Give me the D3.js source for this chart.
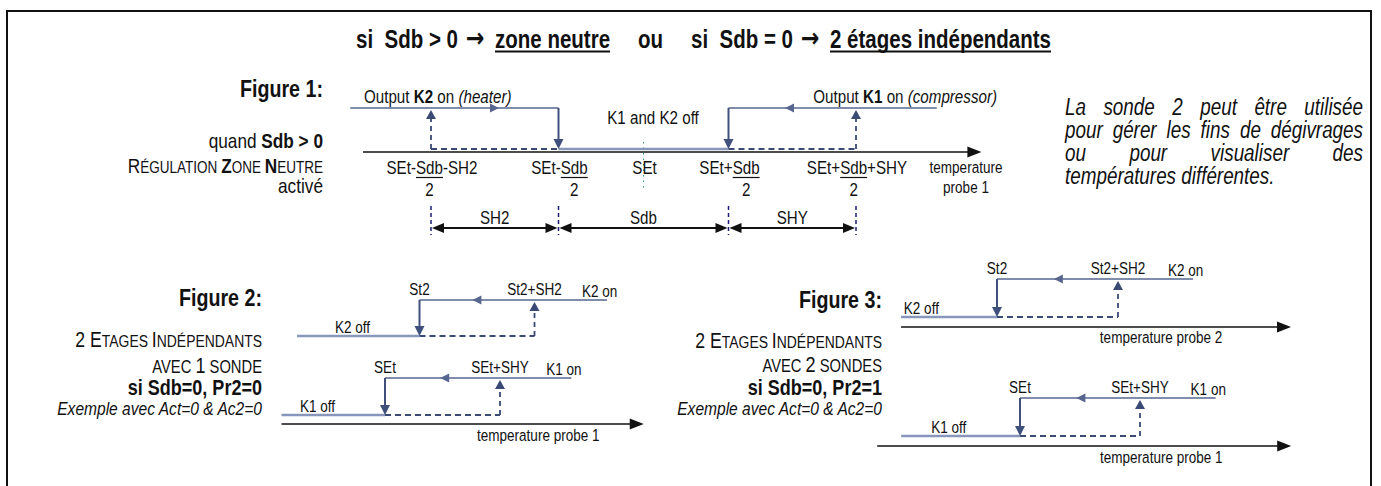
<!DOCTYPE html>
<html>
<head>
<meta charset="utf-8">
<script src="https://cdn.jsdelivr.net/npm/d3@7"></script>
<style>
  body { margin: 0; background: #fff; }
  svg { display: block; }
  text { font-family: "Liberation Sans", Arial, sans-serif; fill: #111; white-space: pre; }
</style>
</head>
<body>
<script>
// ---- data ----
// figure 1 : SEt = 0, Sdb = 4, SH2 = SHY = 3 (temperature units)
var fig1Thresholds = [-5, -2, 0, 2, 5];
var fig1Labels = [["SEt-", "Sdb", "-SH2"], ["SEt-", "Sdb", ""], ["SEt", "", ""], ["SEt+", "Sdb", ""], ["SEt+", "Sdb", "+SHY"]];
var fig1Bands = [[-5, -2], [-2, 2], [2, 5]];
var fig1BandLabels = ["SH2", "Sdb", "SHY"];

// figure 2 : one probe, SEt = 0, St2 = 3, SH2 = SHY = 10
var fig2K2 = { low: 3, high: 13, offStart: -7.65, onEnd: 19.3, arrow: 7.6, offLabel: -4.35 };
var fig2K1 = { low: 0, high: 10, offStart: -9, onEnd: 16.2, arrow: 4.8, offLabel: -7.4 };
var fig2Axis = [-9, 22.5];

// figure 3 : two probes
var fig3K2 = { low: 3, high: 13, offStart: -4.93, onEnd: 19.2, arrow: 7.7, offLabel: -4.7 };
var fig3K1 = { low: 0, high: 10, offStart: -9.9, onEnd: 16.3, arrow: 4.7, offLabel: -7.4 };
var fig3Axis2 = [-4.93, 27.3];
var fig3Axis1 = [-11.9, 22.6];

var noteLines = ["La sonde 2 peut être utilisée", "pour gérer les fins de dégivrages", "ou pour visualiser des", "températures différentes."];

var W = 1381, H = 486;
var NARROW = 0.82;   // Arial -> Arial Narrow
var cOn = "#56668f", cDrop = "#3f507c", cOff = "#8796ba", cDash = "#3a4a74";

var svg = d3.select("body").append("svg").attr("width", W).attr("height", H);

// frame
svg.append("rect").attr("x", 7).attr("y", 11).attr("width", 1364).attr("height", 480)
  .attr("fill", "none").attr("stroke", "#111").attr("stroke-width", 2);

// ---- helpers ----
function line(g, x1, y1, x2, y2, color, w, dash) {
  return g.append("line").attr("x1", x1).attr("y1", y1).attr("x2", x2).attr("y2", y2)
    .attr("stroke", color).attr("stroke-width", w).attr("stroke-dasharray", dash || null);
}
// triangle with tip at (x,y), pointing dir
function tri(g, x, y, dir, len, half, color) {
  var p;
  if (dir == "down") p = [[x, y], [x - half, y - len], [x + half, y - len]];
  if (dir == "up") p = [[x, y], [x - half, y + len], [x + half, y + len]];
  if (dir == "left") p = [[x, y], [x + len, y - half], [x + len, y + half]];
  if (dir == "right") p = [[x, y], [x - len, y - half], [x - len, y + half]];
  g.append("path").attr("d", "M" + p.join("L") + "Z").attr("fill", color);
}
function place(t, x, y) {
  return t.attr("transform", "translate(" + x + "," + y + ") scale(" + NARROW + ",1)");
}
function width(t) { return t.node().getComputedTextLength() * NARROW; }
// text built from parts [string, size, weight, style]
function rich(g, x, y, parts, anchor) {
  var t = g.append("text").attr("text-anchor", anchor || "start");
  place(t, x, y);
  parts.forEach(function (p) {
    t.append("tspan").text(p[0]).attr("font-size", p[1])
      .attr("font-weight", p[2] || "normal").attr("font-style", p[3] || "normal");
  });
  return t;
}
function txt(g, x, y, s, size, anchor, weight, style) {
  return rich(g, x, y, [[s, size, weight, style]], anchor);
}
function axis(g, x0, x1, y) {
  line(g, x0, y, x1 - 10, y, "#111", 1.6);
  tri(g, x1, y, "right", 14, 5.5, "#111");
}
function upDash(g, x, yOff, yOn) {
  line(g, x, yOff, x, yOn + 9, cDash, 1.8, "5,4");
  tri(g, x, yOn + 2, "up", 9, 5, cDash);
}
function drop(g, x, yOn, yOff) {
  line(g, x, yOn, x, yOff - 8, cDrop, 2);
  tri(g, x, yOff, "down", 10, 5, cDrop);
}

// two-level relay line, switching off at low and on at high
function relay(g, x, r, onY, offY, names) {
  line(g, x(r.low), onY, x(r.onEnd), onY, cOn, 1.6);
  tri(g, x(r.arrow), onY, "left", 9, 4.5, cOn);
  line(g, x(r.offStart), offY, x(r.low), offY, cOff, 2.6);
  line(g, x(r.low), offY, x(r.high), offY, cDash, 1.8, "6,4");
  drop(g, x(r.low), onY, offY);
  upDash(g, x(r.high), offY, onY);
  var fs = 16.5;
  txt(g, x(r.low), onY - 5, names[0], fs, "middle");
  txt(g, x(r.high), onY - 5, names[1], fs, "middle");
  txt(g, x(r.onEnd) - 25, onY - 3, names[2] + " on", fs);
  txt(g, x(r.offLabel), offY - 3, names[2] + " off", fs);
}

// ---- title ----
var gt = svg.append("g");
var titleParts = [["si  Sdb > 0", 356, 0], ["zone neutre", 495, 1], ["ou", 638, 0],
  ["si  Sdb = 0", 691, 0], ["2 étages indépendants", 830, 1]];
titleParts.forEach(function (p) {
  var t = txt(gt, p[1], 48, p[0], 25, "start", "bold");
  if (p[2]) line(gt, p[1], 51.5, p[1] + width(t), 51.5, "#111", 2);
});
[466, 801].forEach(function (x) {
  txt(gt, x, 47, "→", 27, "start", "bold").style("font-family", "'DejaVu Sans', sans-serif");
});

// ---- figure 1 ----
var g1 = svg.append("g");
var x1 = d3.scaleLinear().domain([-5, 5]).range([431, 856]);
var on1 = 108, off1 = 149, ax1 = 152;

line(g1, x1(0), 142, x1(0), 188, "#2e9a66", 1, "1.5,4");
axis(g1, x1(-6.6), x1(7.95), ax1);
// K2 (heater)
line(g1, x1(-6.9), on1, x1(-2), on1, cOn, 1.6);
tri(g1, x1(-3.4), on1, "right", 9, 4.5, cOn);
// K1 (compressor)
line(g1, x1(2), on1, x1(6.9), on1, cOn, 1.6);
tri(g1, x1(3.33), on1, "left", 9, 4.5, cOn);
// off level
line(g1, x1(-2), off1, x1(2), off1, cOff, 2.6);
line(g1, x1(-5), off1, x1(-2), off1, cDash, 1.8, "6,4");
line(g1, x1(2), off1, x1(5), off1, cDash, 1.8, "6,4");
drop(g1, x1(-2), on1, off1);
drop(g1, x1(2), on1, off1);
upDash(g1, x1(-5), off1, on1);
upDash(g1, x1(5), off1, on1);

rich(g1, 364, 103, [["Output ", 18.5], ["K2", 18.5, "bold"], [" on ", 18.5], ["(heater)", 18.5, "normal", "italic"]]);
rich(g1, 997, 103, [["Output ", 18.5], ["K1", 18.5, "bold"], [" on ", 18.5], ["(compressor)", 18.5, "normal", "italic"]], "end");
txt(g1, 653, 124, "K1 and K2 off", 18.5, "middle");
txt(g1, 966, 173, "temperature", 16.5, "middle");
txt(g1, 966, 193, "probe 1", 16.5, "middle");

// threshold labels with Sdb/2 fractions
fig1Thresholds.forEach(function (v, i) {
  var lab = fig1Labels[i];
  var tmp = lab.map(function (s) {
    var t = txt(g1, 0, 174, s, 18.5);
    return { el: t, w: s ? width(t) : 0 };
  });
  var total = tmp[0].w + tmp[1].w + tmp[2].w;
  var xs = x1(v) + 1 - total / 2;
  place(tmp[0].el, xs, 174);
  place(tmp[1].el, xs + tmp[0].w, 174);
  place(tmp[2].el, xs + tmp[0].w + tmp[1].w, 174);
  if (lab[1]) {
    var ux = xs + tmp[0].w;
    line(g1, ux, 177.5, ux + tmp[1].w, 177.5, "#111", 1.2);
    txt(g1, ux + tmp[1].w / 2, 196, "2", 18.5, "middle");
  }
});

// dimension arrows
var dimY = 228;
fig1Bands.forEach(function (b, i) {
  var a = x1(b[0]), c = x1(b[1]);
  line(g1, a + 10, dimY, c - 10, dimY, "#111", 2.2);
  tri(g1, a + 1, dimY, "left", 12, 5, "#111");
  tri(g1, c - 1, dimY, "right", 12, 5, "#111");
  txt(g1, (a + c) / 2, 224, fig1BandLabels[i], 18.5, "middle");
});
[-5, -2, 2, 5].forEach(function (v) {
  line(g1, x1(v), 206, x1(v), 235, "#1d1d78", 1.5, "4,3");
});

// left text figure 1
var L1 = 323;
txt(g1, L1, 97, "Figure 1:", 24, "end", "bold");
rich(g1, L1, 148, [["quand ", 21], ["Sdb > 0", 21, "bold"]], "end");
rich(g1, L1, 173, [["R", 21], ["ÉGULATION ", 16.5], ["Z", 21, "bold"], ["ONE ", 16.5], ["N", 21, "bold"], ["EUTRE", 16.5]], "end");
txt(g1, L1, 193, "activé", 21, "end");

// ---- figure 2 ----
var g2 = svg.append("g");
var x2 = d3.scaleLinear().domain([0, 10]).range([385, 500]);
relay(g2, x2, fig2K2, 300, 336, ["St2", "St2+SH2", "K2"]);
relay(g2, x2, fig2K1, 378, 415, ["SEt", "SEt+SHY", "K1"]);
axis(g2, x2(fig2Axis[0]), x2(fig2Axis[1]), 424);
txt(g2, x2(8), 441, "temperature probe 1", 16.5);

function leftBlock(g, R, ys, n, pr) {
  txt(g, R, ys[0], "Figure " + n + ":", 24, "end", "bold");
  rich(g, R, ys[1], [["2 E", 21.5], ["TAGES ", 17], ["I", 21.5], ["NDÉPENDANTS", 17]], "end");
  rich(g, R, ys[2], [["AVEC ", 18], [pr == 0 ? "1" : "2", 22], [pr == 0 ? " SONDE" : " SONDES", 18]], "end");
  txt(g, R, ys[3], "si Sdb=0, Pr2=" + pr, 22, "end", "bold");
  txt(g, R, ys[4], "Exemple avec Act=0 & Ac2=0", 19, "end", "normal", "italic");
}
leftBlock(g2, 262, [306, 347, 373, 395, 415], 2, 0);

// ---- figure 3 ----
var g3 = svg.append("g");
var x3b = d3.scaleLinear().domain([3, 13]).range([997, 1118]);
var x3a = d3.scaleLinear().domain([0, 10]).range([1020, 1140]);
relay(g3, x3b, fig3K2, 279, 317, ["St2", "St2+SH2", "K2"]);
axis(g3, x3b(fig3Axis2[0]), x3b(fig3Axis2[1]), 327);
txt(g3, x3b(11.5), 343, "temperature probe 2", 16.5);
relay(g3, x3a, fig3K1, 398, 436, ["SEt", "SEt+SHY", "K1"]);
axis(g3, x3a(fig3Axis1[0]), x3a(fig3Axis1[1]), 446);
txt(g3, x3a(6.67), 463, "temperature probe 1", 16.5);
leftBlock(g3, 882, [308, 348, 372, 395, 415], 3, 1);

// ---- note (justified) ----
var gn = svg.append("g");
var nL = 1065, nR = 1363, nY = 115, nStep = 23;
noteLines.forEach(function (s, i) {
  var words = s.split(" ");
  var y = nY + i * nStep;
  var els = words.map(function (w) { return txt(gn, 0, y, w, 23, "start", "normal", "italic"); });
  var ws = els.map(width);
  var last = i == noteLines.length - 1;
  var gap = last ? 5.2 : (nR - nL - d3.sum(ws)) / (words.length - 1);
  var xx = nL;
  els.forEach(function (e, j) { place(e, xx, y); xx += ws[j] + gap; });
});
</script>
</body>
</html>
